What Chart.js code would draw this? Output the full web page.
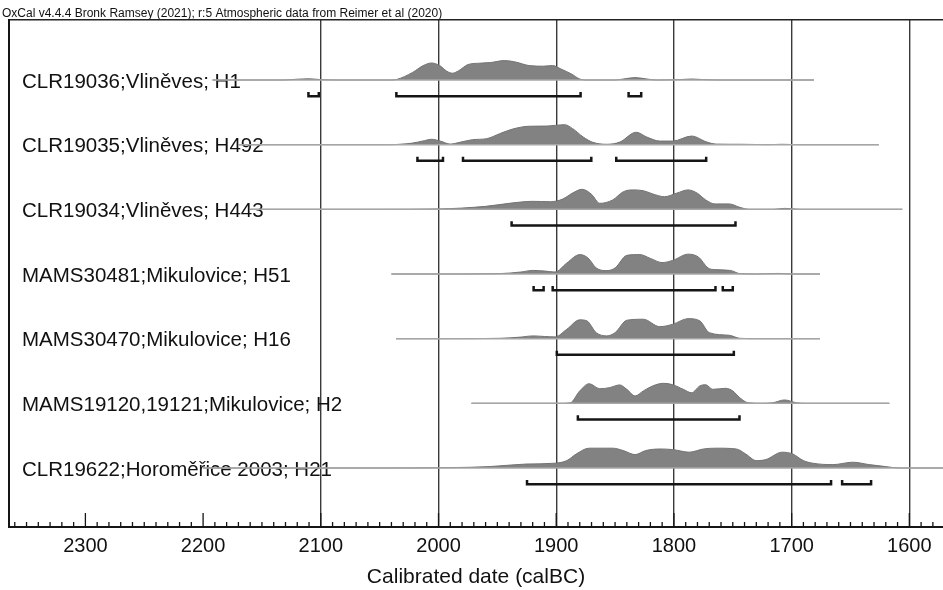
<!DOCTYPE html>
<html>
<head>
<meta charset="utf-8">
<script src="https://cdn.jsdelivr.net/npm/chart.js@4.4.1/dist/chart.umd.min.js"></script>
<style>
  html, body { margin: 0; padding: 0; background: #fff; }
  #wrap { width: 943px; height: 590px; }
</style>
</head>
<body>
<div id="wrap"><canvas id="oxcalChart" width="943" height="590"></canvas></div>
<script>
// sample labels, top to bottom
var rowLabels = [
    'CLR19036;Vliněves; H1',
    'CLR19035;Vliněves; H492',
    'CLR19034;Vliněves; H443',
    'MAMS30481;Mikulovice; H51',
    'MAMS30470;Mikulovice; H16',
    'MAMS19120,19121;Mikulovice; H2',
    'CLR19622;Horoměřice 2003; H21'
];

// calibrated distributions (years BC, relative probability 0-100)
var yearsH1 = [2192, 2132, 2120, 2110, 2100, 2085, 2040, 2036, 2022, 2013, 2006, 1999, 1993, 1988, 1983, 1975, 1965, 1956, 1944, 1934, 1923, 1911, 1903, 1896, 1887, 1880, 1874, 1850, 1843, 1833, 1823, 1815, 1795, 1785, 1775, 1760, 1681];
var probH1 = [0, 0, 4, 6, 2, 0, 0, 2, 38, 72, 85, 72, 44, 34, 46, 77, 84, 87, 97, 89, 72, 69, 72, 55, 30, 5, 0, 0, 5, 12, 5, 0, 2, 5, 2, 0, 0];
var rangesH1 = [[2110.5, 2101.7], [2035.8, 1879.3], [1838.5, 1827.8]];

var yearsH492 = [2170, 2040, 2033, 2022, 2012, 2006, 1998, 1990, 1981, 1971, 1959, 1948, 1937, 1923, 1908, 1893, 1886, 1877, 1869, 1857, 1846, 1832, 1823, 1812, 1801, 1785, 1772, 1764, 1742, 1720, 1708, 1695, 1626];
var probH492 = [0, 0, 2, 8, 20, 27, 17, 3, 13, 25, 30, 55, 78, 92, 93, 100, 80, 38, 12, 2, 13, 62, 38, 18, 18, 43, 13, 3, 2, 0, 2, 0, 0];
var rangesH492 = [[2017.9, 1996.2], [1979.2, 1870.2], [1849, 1772.6]];

var yearsH443 = [2160, 2050, 2000, 1960, 1940, 1920, 1905, 1895, 1885, 1878, 1870, 1863, 1852, 1843, 1835, 1826, 1818, 1808, 1798, 1788, 1780, 1773, 1765, 1753, 1744, 1736, 1715, 1706, 1693, 1606];
var probH443 = [0, 0, 2, 15, 30, 40, 38, 50, 85, 100, 75, 30, 47, 88, 97, 93, 77, 63, 80, 97, 80, 47, 27, 27, 10, 0, 0, 5, 0, 0];
var rangesH443 = [[1937.9, 1747.7]];

var yearsH51 = [2040, 1990, 1948, 1930, 1920, 1910, 1901, 1891, 1880, 1873, 1866, 1857, 1850, 1840, 1829, 1820, 1810, 1801, 1788, 1779, 1771, 1765, 1752, 1744, 1730, 1711, 1700, 1676];
var probH51 = [0, 0, 2, 10, 18, 15, 10, 55, 97, 80, 30, 17, 30, 93, 97, 78, 57, 68, 99, 84, 30, 22, 18, 2, 0, 3, 0, 0];
var rangesH51 = [[1919.2, 1910.7], [1903, 1764.7], [1758.5, 1750]];

var yearsH16 = [2036, 1990, 1948, 1930, 1920, 1910, 1901, 1891, 1880, 1874, 1866, 1857, 1850, 1840, 1826, 1812, 1801, 1788, 1778, 1770, 1753, 1744, 1730, 1676];
var probH16 = [0, 0, 2, 8, 14, 11, 9, 47, 94, 89, 30, 14, 30, 92, 97, 60, 72, 100, 89, 30, 17, 2, 0, 0];
var rangesH16 = [[1899.5, 1749.1]];

var yearsH2 = [1972, 1895, 1888, 1880, 1872, 1863, 1855, 1846, 1840, 1833, 1826, 1818, 1809, 1801, 1792, 1785, 1778, 1773, 1767, 1756, 1750, 1744, 1737, 1725, 1716, 1706, 1696, 1688, 1617];
var probH2 = [0, 0, 3, 62, 98, 73, 78, 92, 70, 37, 62, 87, 100, 93, 70, 53, 87, 93, 70, 75, 62, 28, 3, 0, 3, 17, 3, 0, 0];
var rangesH2 = [[1881.6, 1744.3]];

var yearsH21 = [2200, 2050, 1990, 1957, 1925, 1901, 1891, 1883, 1872, 1852, 1843, 1833, 1824, 1812, 1801, 1787, 1775, 1764, 1747, 1739, 1730, 1722, 1708, 1699, 1690, 1682, 1665, 1648, 1634, 1620, 1608, 1560];
var probH21 = [0, 0, 2, 7, 20, 24, 37, 70, 99, 99, 87, 67, 87, 95, 92, 79, 95, 99, 95, 70, 37, 42, 79, 70, 37, 24, 17, 29, 17, 7, 0, 0];
var rangesH21 = [[1924.8, 1666.5], [1657.1, 1632.5]];

var tickLabels = [2300, 2200, 2100, 2000, 1900, 1800, 1700, 1600];

var rows = [
    {years: yearsH1, prob: probH1, ranges: rangesH1},
    {years: yearsH492, prob: probH492, ranges: rangesH492},
    {years: yearsH443, prob: probH443, ranges: rangesH443},
    {years: yearsH51, prob: probH51, ranges: rangesH51},
    {years: yearsH16, prob: probH16, ranges: rangesH16},
    {years: yearsH2, prob: probH2, ranges: rangesH2},
    {years: yearsH21, prob: probH21, ranges: rangesH21}
];

var PEAK = 0.31;   // height of a 100% peak in row units
var BAR = 0.25;    // range bar below the baseline
var TICK = 0.185;  // top of the bracket ends

var datasets = [];
rows.forEach(function (r, i) {
    var base = rows.length - i;
    // baseline
    datasets.push({
        data: [{x: r.years[0], y: base}, {x: r.years[r.years.length - 1], y: base}],
        borderColor: '#a6a6a6',
        borderWidth: 1.5,
        pointRadius: 0,
        fill: false
    });
    // distribution
    datasets.push({
        data: r.years.map(function (yr, k) { return {x: yr, y: base + r.prob[k] / 100 * PEAK}; }),
        fill: {value: base},
        backgroundColor: '#828282',
        borderColor: '#737373',
        borderWidth: 1,
        pointRadius: 0,
        cubicInterpolationMode: 'monotone'
    });
    // ranges
    r.ranges.forEach(function (rg) {
        datasets.push({
            data: [
                {x: rg[0], y: base - TICK}, {x: rg[0], y: base - BAR},
                {x: rg[1], y: base - BAR}, {x: rg[1], y: base - TICK}
            ],
            borderColor: '#151515',
            borderWidth: 2.5,
            borderJoinStyle: 'miter',
            pointRadius: 0,
            tension: 0,
            fill: false
        });
    });
});

// little tick marks pointing up from the date axis
var minorTicks = {
    id: 'minorTicks',
    afterDraw: function (chart) {
        var s = chart.scales.x;
        var ctx = chart.ctx;
        var bottom = chart.chartArea.bottom;
        ctx.save();
        ctx.strokeStyle = '#151515';
        ctx.lineWidth = 1.3;
        s.ticks.forEach(function (t) {
            var px = s.getPixelForValue(t.value);
            var len = t.value % 100 === 0 ? 14 : 5;
            ctx.beginPath();
            ctx.moveTo(px, bottom);
            ctx.lineTo(px, bottom - len);
            ctx.stroke();
        });
        ctx.restore();
    }
};

Chart.defaults.font.family = "'Liberation Sans', Arial, sans-serif";
Chart.defaults.color = '#111';

var xMin = 1571.4, xMax = 2364.9;

var ctx = document.getElementById('oxcalChart').getContext('2d');
var oxcalChart = new Chart(ctx, {
    type: 'line',
    data: {datasets: datasets},
    plugins: [minorTicks],
    options: {
        responsive: false,
        animation: false,
        layout: {padding: {left: 2, right: 0, top: 0, bottom: 0}},
        plugins: {
            legend: {display: false},
            tooltip: {enabled: false},
            title: {
                display: true,
                align: 'start',
                text: 'OxCal v4.4.4 Bronk Ramsey (2021); r:5 Atmospheric data from Reimer et al (2020)',
                font: {size: 12, weight: 'normal', lineHeight: 1},
                color: '#111',
                padding: {top: 8, bottom: 0}
            }
        },
        scales: {
            x: {
                type: 'linear',
                position: 'bottom',
                reverse: true,
                min: xMin,
                max: xMax,
                z: 1,
                afterBuildTicks: function (scale) {
                    var t = [];
                    for (var v = 1580; v <= 2360; v += 10) t.push({value: v});
                    scale.ticks = t;
                },
                afterFit: function (scale) { scale.height = 63; },
                grid: {
                    drawTicks: false,
                    lineWidth: 1.4,
                    color: function (c) {
                        return (c.tick && c.tick.value % 100 === 0 && c.tick.value <= 2100) ? '#3a3a3a' : 'rgba(0,0,0,0)';
                    }
                },
                border: {color: '#151515', width: 2},
                ticks: {
                    autoSkip: false,
                    maxRotation: 0,
                    padding: 7,
                    font: {size: 20},
                    callback: function (v) { return tickLabels.indexOf(v) >= 0 ? String(v) : ''; }
                },
                title: {
                    display: true,
                    text: 'Calibrated date (calBC)',
                    font: {size: 21},
                    padding: {top: 0, bottom: 0}
                }
            },
            x2: {
                type: 'linear',
                position: 'top',
                reverse: true,
                min: xMin,
                max: xMax,
                afterFit: function (scale) { scale.height = 0; },
                grid: {display: false},
                ticks: {display: false},
                border: {display: true, color: '#222', width: 1.5}
            },
            y: {
                type: 'linear',
                position: 'left',
                min: 0.088,
                max: 7.928,
                afterBuildTicks: function (scale) {
                    scale.ticks = rowLabels.map(function (l, i) { return {value: rowLabels.length - i}; });
                },
                afterFit: function (scale) {
                    scale.width = 7;
                    scale.paddingTop = 0;
                    scale.paddingBottom = 0;
                },
                grid: {display: false},
                border: {color: '#151515', width: 2},
                ticks: {
                    mirror: true,
                    padding: 13,
                    labelOffset: 2,
                    font: {size: 20.5},
                    callback: function (v) { return rowLabels[rowLabels.length - v]; }
                }
            }
        }
    }
});
</script>
</body>
</html>
